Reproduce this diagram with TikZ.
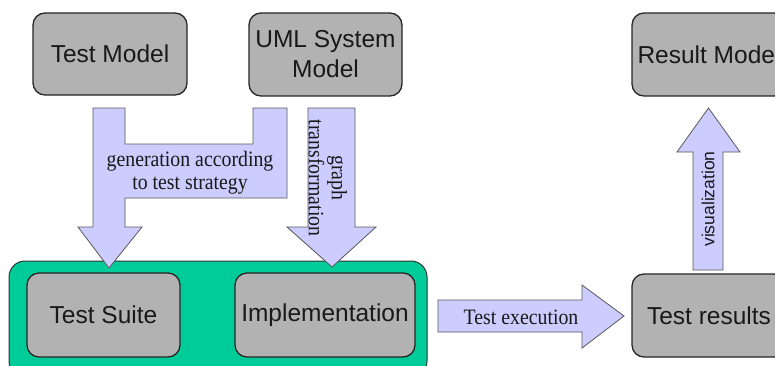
\documentclass[tikz,border=0pt]{standalone}
\usepackage{fontspec}
\setmainfont{Liberation Sans}
\newfontfamily\serifcond[FakeStretch=0.9]{Liberation Serif}
\definecolor{boxgray}{RGB}{178,178,178}
\definecolor{lav}{RGB}{204,204,255}
\definecolor{grp}{RGB}{0,204,153}
\begin{document}
\begin{tikzpicture}[x=1pt,y=-1pt,
  box/.style={draw=black!85, line width=1.3pt, fill=boxgray, rounded corners=12pt,
    align=center, inner sep=0pt, text=black!90,
    font=\fontsize{24.5}{30}\selectfont},
  grpbox/.style={draw=black!80, line width=1pt, fill=grp, rounded corners=16pt},
  blk/.style={draw=black!65, line width=0.8pt, fill=lav, line join=miter},
  serlbl/.style={font=\serifcond\fontsize{22}{23}\selectfont, align=center, inner sep=0pt, text=black!90},
  sanslbl/.style={font=\fontsize{17.5}{20}\selectfont, inner sep=0pt, text=black!90}]
\clip (0,0) rectangle (775,365);
\fill[white] (0,0) rectangle (775,365);
% top boxes
\node[box, minimum width=154pt, minimum height=82pt] (tm) at (110,54) {Test Model};
\node[box, minimum width=153pt, minimum height=83pt] (uml) at (325.5,54.5) {UML System\\Model};
\node[box, minimum width=154pt, minimum height=83pt] (rm) at (709,54.5) {Result Model};
% group
\node[grpbox, minimum width=418pt, minimum height=116pt, inner sep=0pt] (grp) at (218,319) {};
\node[box, minimum width=153pt, minimum height=84pt] (ts) at (103.5,315) {Test Suite};
\node[box, minimum width=180pt, minimum height=84pt] (impl) at (325,315) {Implementation};
\node[box, minimum width=154pt, minimum height=83pt] (tr) at (709,315.5) {Test results};
% fork arrow: generation
\draw[blk] (93,108) -- (93,227) -- (78,227) -- (109,268) -- (142,227) -- (125,227)
  -- (125,198) -- (287,198) -- (287,108) -- (253,108) -- (253,144) -- (125,144)
  -- (125,108) -- cycle;
\node[serlbl] (gen) at (190,173) {generation according\\to test strategy};
% graph transformation arrow
\draw[blk] (308,108) -- (355,108) -- (355,227) -- (376,227) -- (332,267)
  -- (287,227) -- (308,227) -- cycle;
\node[serlbl, rotate=-90] (gt) at (328,178) {graph\\transformation};
% test execution arrow
\draw[blk] (438,300) -- (582,300) -- (582,285) -- (624,316) -- (582,348)
  -- (582,332) -- (438,332) -- cycle;
\node[serlbl] (te) at (521,317) {Test execution};
% visualization arrow
\draw[blk] (693,270) -- (693,152) -- (677,152) -- (708.5,108) -- (740,152)
  -- (723,152) -- (723,270) -- cycle;
\node[sanslbl, rotate=90] (vis) at (708,199) {visualization};
\end{tikzpicture}
\end{document}
